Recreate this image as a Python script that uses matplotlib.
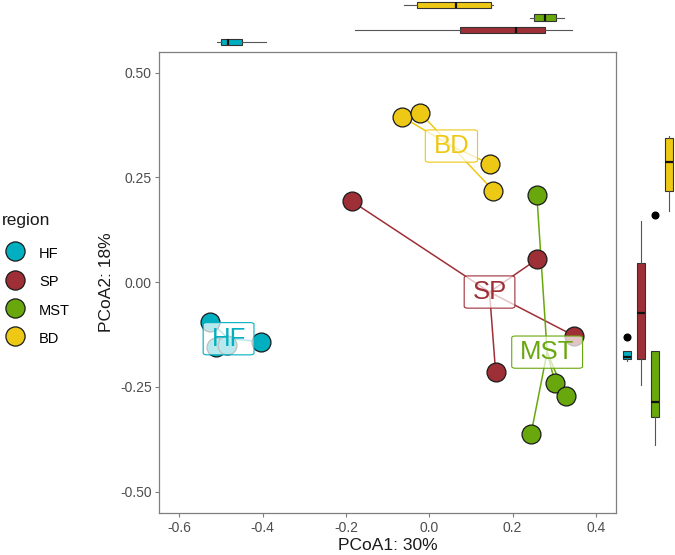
import matplotlib
matplotlib.use("Agg")
import matplotlib.pyplot as plt
from matplotlib.lines import Line2D
import numpy as np

plt.rcParams['font.family'] = ['Liberation Sans', 'DejaVu Sans']
plt.rcParams['axes.unicode_minus'] = False

# ---- data ----
groups = ["HF", "SP", "MST", "BD"]
colors = {"HF": "#00AFC0", "SP": "#9E2F36", "MST": "#68A80C", "BD": "#EDC915"}

hf_x = [-0.526, -0.512, -0.485, -0.404]
hf_y = [-0.095, -0.154, -0.150, -0.142]
sp_x = [-0.186, 0.258, 0.347, 0.159]
sp_y = [0.193, 0.054, -0.128, -0.214]
mst_x = [0.258, 0.302, 0.327, 0.244]
mst_y = [0.208, -0.242, -0.272, -0.363]
bd_x = [-0.066, -0.022, 0.146, 0.154]
bd_y = [0.395, 0.404, 0.282, 0.218]

xs = {"HF": hf_x, "SP": sp_x, "MST": mst_x, "BD": bd_x}
ys = {"HF": hf_y, "SP": sp_y, "MST": mst_y, "BD": bd_y}

xticks = [-0.6, -0.4, -0.2, 0.0, 0.2, 0.4]
xticklabels = ["-0.6", "-0.4", "-0.2", "0.0", "0.2", "0.4"]
yticks = [-0.50, -0.25, 0.00, 0.25, 0.50]
yticklabels = ["-0.50", "-0.25", "0.00", "0.25", "0.50"]
xlabel = "PCoA1: 30%"
ylabel = "PCoA2: 18%"
legend_title = "region"

# ---- figure ----
W, H = 675, 555
fig = plt.figure(figsize=(W / 100, H / 100), dpi=100)

def rect(l, t, r, b):
    return [l / W, 1 - b / H, (r - l) / W, (b - t) / H]

ax = fig.add_axes(rect(159.3, 51.7, 616, 513.3))
axt = fig.add_axes(rect(159.3, 0, 616, 49.4))
axr = fig.add_axes(rect(616, 51.7, 675, 513.3))

# main scatter with star segments
for g in groups:
    x = np.array(xs[g]); y = np.array(ys[g])
    cx, cy = x.mean(), y.mean()
    for xi, yi in zip(x, y):
        ax.plot([cx, xi], [cy, yi], color=colors[g], lw=1.1, zorder=1,
                solid_capstyle='butt')
for g in groups:
    ax.scatter(xs[g], ys[g], s=185, color=colors[g], edgecolor="#1a1a1a",
               linewidths=0.9, zorder=2)
for g in groups:
    cx, cy = np.mean(xs[g]), np.mean(ys[g])
    ax.text(cx, cy, g, color=colors[g], fontsize=18.5, ha='center', va='center',
            zorder=3,
            bbox=dict(boxstyle='round,pad=0.32,rounding_size=0.14',
                      mutation_aspect=0.5,
                      fc=(1, 1, 1, 0.72), ec=colors[g], lw=0.8))

ax.set_xlim(-0.648, 0.448)
ax.set_ylim(-0.552, 0.550)
ax.set_xticks(xticks)
ax.set_xticklabels(xticklabels)
ax.set_yticks(yticks)
ax.set_yticklabels(yticklabels)
for s in ax.spines.values():
    s.set_color("#7F7F7F")
    s.set_linewidth(0.9)
ax.tick_params(axis='both', colors="#7F7F7F", length=3, width=0.8,
               labelcolor="#4D4D4D", labelsize=10, pad=2.5)
ax.set_xlabel(xlabel, fontsize=12.5, color="#1a1a1a", labelpad=2)
ax.set_ylabel(ylabel, fontsize=12.5, color="#1a1a1a", labelpad=4)

# marginal boxplots
def draw_box(axm, vals, pos, vert):
    for v, p, g in zip(vals, pos, groups):
        axm.boxplot([v], positions=[p], widths=0.52, vert=vert,
                    patch_artist=True, showcaps=False, whis=1.5,
                    boxprops=dict(facecolor=colors[g], edgecolor="#333333", lw=0.8),
                    medianprops=dict(color="#111111", lw=1.6),
                    whiskerprops=dict(color="#555555", lw=0.8),
                    flierprops=dict(marker='o', markerfacecolor='black',
                                    markeredgecolor='black', markersize=4.8))

positions = [1, 2, 3, 4]
draw_box(axt, [xs[g] for g in groups], positions, vert=False)
axt.set_xlim(-0.667, 0.455)
axt.set_ylim(0.395, 4.43)
axt.axis('off')

draw_box(axr, [ys[g] for g in groups], positions, vert=True)
axr.set_xlim(0.214, 4.43)
axr.set_ylim(-0.533, 0.612)
axr.axis('off')

# legend
fig.text(2 / W, 1 - 221 / H, legend_title, fontsize=12.5, color="#1a1a1a",
         ha='left', va='center')
handles = [Line2D([0], [0], marker='o', linestyle='none', markersize=13.8,
                  markerfacecolor=colors[g], markeredgecolor="#1a1a1a",
                  markeredgewidth=0.9) for g in groups]
leg = fig.legend(handles, groups, loc='center left',
                 bbox_to_anchor=(2 / W, 1 - 295.7 / H), frameon=False,
                 fontsize=10.5, handlelength=1.85,
                 handleheight=1.5, labelspacing=0.72, handletextpad=0.69,
                 borderaxespad=0, borderpad=0.0)

fig.savefig("out.png", dpi=100)
